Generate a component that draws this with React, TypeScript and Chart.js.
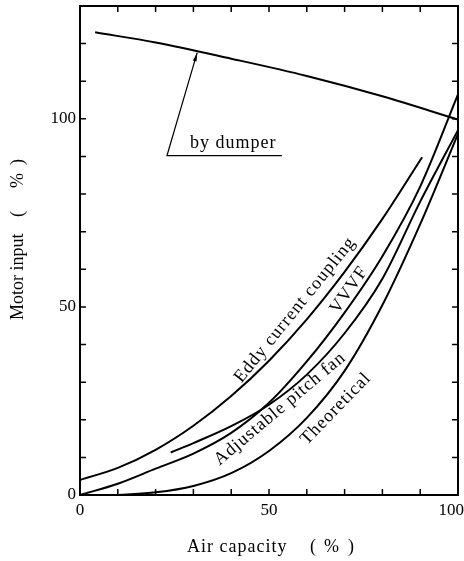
import React, { useEffect, useRef } from 'react';
import { Chart, registerables } from 'chart.js';

Chart.register(...registerables);

// ---- data ----
const damperX = [4, 20, 40, 60, 80, 100];
const damperY = [123, 120.3, 116, 111.4, 106, 99.8];

const eddyX = [0, 10, 20, 30, 40, 50, 60, 70, 80, 90.5];
const eddyY = [4, 7.2, 12, 18.4, 26.3, 35.7, 46.7, 59.3, 73.4, 89.8];

const vvvfX = [0, 10, 20, 30, 40, 50, 60, 70, 80, 90, 100];
const vvvfY = [0, 3, 7, 11, 16.5, 24.5, 35.5, 48.5, 63.5, 82, 106.5];

const pitchX = [24, 30, 40, 50, 60, 70, 80, 90, 100];
const pitchY = [11.3, 13.8, 18.3, 24, 32, 43, 57.5, 78, 97];

const theoX = [10, 20, 30, 40, 50, 60, 70, 80, 90, 100];
const theoY = [0, 0.7, 2.4, 5.8, 11.7, 20.5, 33, 50.5, 72, 96];

const xTickLabels = [0, 50, 100];
const yTickLabels = [0, 50, 100];

const xTitle = 'Air capacity';
const yTitle = 'Motor input';
const unitParts = ['(', '%', ')'];

const FONT = '"Liberation Serif", "DejaVu Serif", serif';

const pts = (xs: number[], ys: number[]) => xs.map((x, i) => ({ x, y: ys[i] }));

const decorPlugin = {
  id: 'decor',
  afterDraw(chart: any) {
    const ctx = chart.ctx as any;
    const xs = chart.scales.x;
    const ys = chart.scales.y;
    const { left, right, top, bottom } = chart.chartArea;
    ctx.save();
    ctx.strokeStyle = '#000';
    ctx.fillStyle = '#000';

    // frame
    ctx.lineWidth = 2;
    ctx.strokeRect(left, top, right - left, bottom - top);

    // inward ticks
    ctx.lineWidth = 1.5;
    const tl = 6;
    for (let v = 10; v < 100; v += 10) {
      const p = xs.getPixelForValue(v);
      ctx.beginPath();
      ctx.moveTo(p, bottom); ctx.lineTo(p, bottom - tl);
      ctx.moveTo(p, top); ctx.lineTo(p, top + tl);
      ctx.stroke();
    }
    for (let v = 10; v < 130; v += 10) {
      const p = ys.getPixelForValue(v);
      ctx.beginPath();
      ctx.moveTo(left, p); ctx.lineTo(left + tl, p);
      ctx.moveTo(right, p); ctx.lineTo(right - tl, p);
      ctx.stroke();
    }

    // tick labels
    ctx.font = `17px ${FONT}`;
    ctx.textBaseline = 'middle';
    ctx.textAlign = 'right';
    yTickLabels.forEach((v) => {
      ctx.fillText(String(v), left - 4, ys.getPixelForValue(v));
    });
    ctx.textBaseline = 'top';
    xTickLabels.forEach((v, i) => {
      const p = xs.getPixelForValue(v);
      if (i === xTickLabels.length - 1) {
        ctx.textAlign = 'right';
        ctx.fillText(String(v), p + 6, bottom + 7);
      } else {
        ctx.textAlign = 'center';
        ctx.fillText(String(v), p, bottom + 7);
      }
    });

    // axis titles
    ctx.font = `18px ${FONT}`;
    ctx.letterSpacing = '1px';
    ctx.textAlign = 'left';
    ctx.textBaseline = 'middle';
    ctx.fillText(xTitle, 187, 547);
    const unitOffsets = [0, 14, 38];
    unitParts.forEach((t, i) => ctx.fillText(t, 310 + unitOffsets[i], 547));
    ctx.save();
    ctx.translate(18, 320);
    ctx.rotate(-Math.PI / 2);
    ctx.letterSpacing = '0px';
    ctx.fillText(yTitle, 0, 0);
    const unitOffsetsY = [103, 132, 155];
    unitParts.forEach((t, i) => ctx.fillText(t, unitOffsetsY[i], 0));
    ctx.restore();
    ctx.letterSpacing = '1px';

    // rotated curve labels (anchored in data coordinates)
    const rot = (text: string, dx: number, dy: number, deg: number) => {
      ctx.save();
      ctx.translate(xs.getPixelForValue(dx), ys.getPixelForValue(dy));
      ctx.rotate((deg * Math.PI) / 180);
      ctx.textAlign = 'center';
      ctx.textBaseline = 'middle';
      ctx.fillText(text, 0, 0);
      ctx.restore();
    };
    rot('Eddy current coupling', 56.9, 49.2, -51);
    rot('VVVF', 71.2, 54.5, -55);
    rot('Adjustable pitch fan', 52.9, 22.9, -40);
    rot('Theoretical', 67.7, 22.9, -46);

    // "by dumper" annotation
    ctx.textAlign = 'left';
    ctx.textBaseline = 'alphabetic';
    ctx.fillText('by dumper', xs.getPixelForValue(29.1), ys.getPixelForValue(92.3));
    ctx.letterSpacing = '0px';
    const ax0 = xs.getPixelForValue(23), ay0 = ys.getPixelForValue(90.2);
    const ax1 = xs.getPixelForValue(31), ay1 = ys.getPixelForValue(117.6);
    const ux1 = xs.getPixelForValue(53.4);
    ctx.lineWidth = 1.2;
    ctx.beginPath();
    ctx.moveTo(ux1, ay0); ctx.lineTo(ax0, ay0); ctx.lineTo(ax1, ay1);
    ctx.stroke();
    const ang = Math.atan2(ay1 - ay0, ax1 - ax0);
    const hl = 9, hw = 0.22;
    ctx.beginPath();
    ctx.moveTo(ax1, ay1);
    ctx.lineTo(ax1 - hl * Math.cos(ang - hw), ay1 - hl * Math.sin(ang - hw));
    ctx.lineTo(ax1 - hl * Math.cos(ang + hw), ay1 - hl * Math.sin(ang + hw));
    ctx.closePath();
    ctx.fill();

    ctx.restore();
  },
};

export default function App() {
  const ref = useRef<HTMLCanvasElement | null>(null);
  useEffect(() => {
    if (!ref.current) return;
    const line = (label: string, data: any[]) => ({
      label,
      data,
      borderColor: '#000',
      backgroundColor: '#000',
      borderWidth: 2,
      pointRadius: 0,
      fill: false,
      cubicInterpolationMode: 'monotone' as const,
    });
    const chart = new Chart(ref.current, {
      type: 'line',
      data: {
        datasets: [
          line('by dumper', pts(damperX, damperY)),
          line('Eddy current coupling', pts(eddyX, eddyY)),
          line('VVVF', pts(vvvfX, vvvfY)),
          line('Adjustable pitch fan', pts(pitchX, pitchY)),
          line('Theoretical', pts(theoX, theoY)),
        ],
      },
      options: {
        responsive: false,
        animation: false,
        devicePixelRatio: 1,
        layout: { padding: { top: 6, right: 6, left: 0, bottom: 0 } },
        plugins: { legend: { display: false }, tooltip: { enabled: false } },
        scales: {
          x: {
            type: 'linear',
            min: 0,
            max: 100,
            grid: { display: false, drawTicks: false },
            border: { display: false },
            ticks: { display: false },
            afterFit: (s: any) => { s.height = 66; },
          },
          y: {
            type: 'linear',
            min: 0,
            max: 130,
            grid: { display: false, drawTicks: false },
            border: { display: false },
            ticks: { display: false },
            afterFit: (s: any) => { s.width = 80; },
          },
        },
      },
      plugins: [decorPlugin],
    });
    return () => chart.destroy();
  }, []);
  return (
    <div style={{ position: 'absolute', left: 0, top: 0, width: 464, height: 561, background: '#fff' }}>
      <canvas ref={ref} width={464} height={561} />
    </div>
  );
}
